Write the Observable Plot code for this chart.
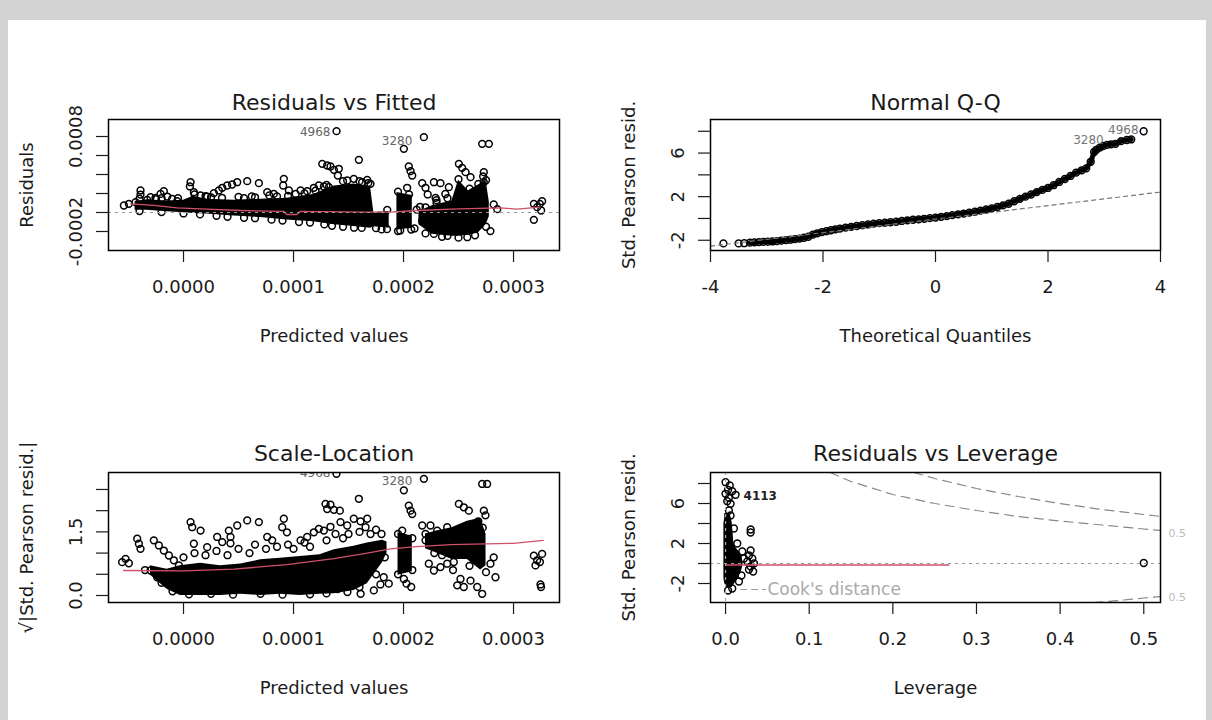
<!DOCTYPE html>
<html>
<head>
<meta charset="utf-8">
<script src="https://cdn.jsdelivr.net/npm/d3@7"></script>
<script src="https://cdn.jsdelivr.net/npm/@observablehq/plot@0.6"></script>
<style>
  html, body { margin: 0; padding: 0; background: #ffffff; }
  #page { position: relative; width: 1212px; height: 720px; overflow: hidden; background: #ffffff; }
  .band { position: absolute; background: #d3d3d3; }
  .panel { position: absolute; }
  .panel svg { display: block; }
</style>
</head>
<body>
<div id="page">
  <div class="band" style="left:0;top:0;width:1212px;height:20px;"></div>
  <div class="band" style="left:0;top:0;width:8px;height:720px;"></div>
  <div class="band" style="left:1206px;top:0;width:6px;height:720px;"></div>
  <div class="panel" id="p1" style="left:8px;top:20px;"></div>
  <div class="panel" id="p2" style="left:606px;top:20px;"></div>
  <div class="panel" id="p3" style="left:8px;top:360px;"></div>
  <div class="panel" id="p4" style="left:606px;top:360px;"></div>
</div>
<script>
// ---------------- Titles & labels ----------------
const panelTitles = ["Residuals vs Fitted", "Normal Q-Q", "Scale-Location", "Residuals vs Leverage"];
const xTitles = ["Predicted values", "Theoretical Quantiles", "Predicted values", "Leverage"];
const yTitles = ["Residuals", "Std. Pearson resid.", "\u221A|Std. Pearson resid.|", "Std. Pearson resid."];

// ---------------- Ticks ----------------
const fittedTicks = [0, 0.0001, 0.0002, 0.0003];
const fittedTickLabels = ["0.0000", "0.0001", "0.0002", "0.0003"];
const residTicks = [-0.0002, 0, 0.0002, 0.0004, 0.0006, 0.0008];
const residTickLabels = ["-0.0002", "", "", "", "", "0.0008"];
const qqXTicks = [-4, -2, 0, 2, 4];
const qqXTickLabels = ["-4", "-2", "0", "2", "4"];
const stdTicks = [-2, 0, 2, 4, 6, 8];
const stdTickLabels = ["-2", "", "2", "", "6", ""];
const sqrtTicks = [0, 0.5, 1, 1.5, 2, 2.5];
const sqrtTickLabels = ["0.0", "", "", "1.5", "", ""];
const levTicks = [0, 0.1, 0.2, 0.3, 0.4, 0.5];
const levTickLabels = ["0.0", "0.1", "0.2", "0.3", "0.4", "0.5"];

// ---------------- Panel 1: Residuals vs Fitted ----------------
// dense cores [fitted, lowest residual, highest residual, cluster]
const rvfDense = [
  [-0.44e-4, 0.25e-4, 1.15e-4, "A"], [-0.33e-4, 0.25e-4, 1.35e-4, "A"], [-0.15e-4, 0.08e-4, 1.2e-4, "A"],
  [0.0e-4, -0.03e-4, 1.3e-4, "A"], [0.09e-4, -0.1e-4, 1.7e-4, "A"], [0.21e-4, -0.17e-4, 1.4e-4, "A"],
  [0.46e-4, -0.38e-4, 1.3e-4, "A"], [0.70e-4, -0.52e-4, 1.4e-4, "A"], [0.94e-4, -0.8e-4, 1.5e-4, "A"],
  [1.18e-4, -0.97e-4, 1.9e-4, "A"], [1.37e-4, -1.3e-4, 2.8e-4, "A"], [1.55e-4, -1.48e-4, 3.0e-4, "A"],
  [1.70e-4, -1.66e-4, 2.7e-4, "A"], [1.73e-4, -1.5e-4, 0.0e-4, "A"], [1.87e-4, -1.66e-4, 0.1e-4, "A"],
  [1.94e-4, -1.83e-4, 2.1e-4, "B"], [2.08e-4, -1.66e-4, 1.8e-4, "B"],
  [2.14e-4, -1.3e-4, 0.1e-4, "C"], [2.26e-4, -2.3e-4, 0.7e-4, "C"], [2.44e-4, -2.5e-4, 1.2e-4, "C"],
  [2.50e-4, -2.5e-4, 3.4e-4, "C"], [2.59e-4, -2.4e-4, 2.3e-4, "C"], [2.68e-4, -2.15e-4, 2.9e-4, "C"],
  [2.75e-4, -1.3e-4, 3.4e-4, "C"], [2.78e-4, -0.45e-4, 1.1e-4, "C"]
];
// individual points [fitted, residual]
const rvfPoints = [
  [-0.542e-4, 0.737e-4], [-0.497e-4, 0.912e-4], [-0.436e-4, 1.09e-4], [-0.391e-4, 2.32e-4], [-0.391e-4, 1.89e-4],
  [-0.33e-4, 1.33e-4], [-0.30e-4, 1.61e-4], [-0.255e-4, 1.54e-4], [-0.209e-4, 1.96e-4], [-0.179e-4, 2.25e-4],
  [-0.148e-4, 1.68e-4], [-0.103e-4, 1.44e-4], [-0.058e-4, 1.19e-4],
  [0.064e-4, 3.19e-4], [0.058e-4, 2.74e-4], [0.094e-4, 2.14e-4], [0.155e-4, 1.79e-4], [0.215e-4, 1.68e-4],
  [0.276e-4, 2.04e-4], [0.321e-4, 2.32e-4], [0.352e-4, 2.6e-4], [0.397e-4, 2.84e-4], [0.442e-4, 2.95e-4],
  [0.488e-4, 3.19e-4], [0.579e-4, 3.3e-4], [0.685e-4, 3.09e-4], [0.761e-4, 2.14e-4], [0.821e-4, 1.96e-4],
  [0.912e-4, 3.54e-4], [0.906e-4, 2.84e-4], [0.958e-4, 2.32e-4], [1.064e-4, 2.32e-4], [1.124e-4, 2.25e-4],
  [1.185e-4, 2.6e-4], [1.23e-4, 2.84e-4], [1.276e-4, 2.74e-4], [1.321e-4, 2.67e-4],
  [1.261e-4, 5.12e-4], [1.306e-4, 4.95e-4], [1.336e-4, 4.84e-4], [1.367e-4, 4.49e-4], [1.412e-4, 4.6e-4],
  [1.403e-4, 3.89e-4], [1.488e-4, 3.37e-4], [1.548e-4, 3.54e-4], [1.594e-4, 5.54e-4], [1.624e-4, 3.19e-4],
  [1.67e-4, 3.44e-4], [1.70e-4, 3.02e-4], [1.852e-4, 0.28e-4],
  [2.003e-4, 6.70e-4], [2.048e-4, 4.84e-4], [2.064e-4, 4.35e-4], [2.079e-4, 3.89e-4], [2.033e-4, 2.6e-4],
  [2.17e-4, 3.09e-4], [2.2e-4, 2.6e-4], [2.276e-4, 3.19e-4], [2.336e-4, 3.09e-4], [2.412e-4, 2.67e-4],
  [2.291e-4, 1.54e-4], [2.79e-4, -1.96e-4],
  [2.503e-4, 5.12e-4], [2.533e-4, 4.7e-4], [2.564e-4, 4.25e-4], [2.609e-4, 3.72e-4], [2.73e-4, 4.25e-4],
  [2.724e-4, 3.79e-4], [2.73e-4, 3.19e-4], [2.82e-4, 0.84e-4], [2.852e-4, 0.35e-4],
  [3.185e-4, -0.77e-4], [3.215e-4, 0.56e-4], [3.239e-4, 0.91e-4], [3.26e-4, 1.19e-4], [3.251e-4, 0.21e-4], [3.185e-4, 0.91e-4],
  [1.391e-4, 8.56e-4], [2.185e-4, 7.93e-4], [2.715e-4, 7.23e-4], [2.776e-4, 7.23e-4],
  [2.276e-4, -2.25e-4], [2.58e-4, -2.6e-4], [2.4e-4, -2.45e-4], [2.1e-4, -1.68e-4], [1.97e-4, -1.89e-4],
  [0.3e-4, -0.35e-4], [0.55e-4, -0.55e-4], [0.8e-4, -0.75e-4], [1.05e-4, -1.0e-4], [1.28e-4, -1.25e-4],
  [1.45e-4, -1.5e-4], [1.62e-4, -1.62e-4], [1.8e-4, -1.78e-4],
  [0.5e-4, 1.65e-4], [0.2e-4, 1.72e-4], [0.78e-4, 1.8e-4], [1.02e-4, 1.95e-4], [-0.25e-4, 1.4e-4], [0.62e-4, 1.7e-4],
  [2.2e-4, 0.55e-4], [2.35e-4, -0.5e-4], [2.46e-4, 0.85e-4], [2.62e-4, 1.25e-4], [2.66e-4, -1.0e-4], [2.3e-4, 1.3e-4],
  [2.17e-4, -0.9e-4], [2.55e-4, 2.0e-4], [2.7e-4, 2.25e-4], [2.22e-4, 1.9e-4], [2.38e-4, 1.95e-4], [2.12e-4, 0.3e-4],
  [-0.40e-4, 1.45e-4], [-0.2e-4, 1.5e-4], [-0.05e-4, 1.5e-4], [0.1e-4, 1.9e-4], [0.25e-4, 1.6e-4], [0.35e-4, 1.55e-4],
  [0.55e-4, 1.5e-4], [0.65e-4, 1.6e-4], [0.85e-4, 1.7e-4], [0.95e-4, 1.75e-4], [1.1e-4, 2.0e-4], [1.2e-4, 2.3e-4],
  [1.3e-4, 2.9e-4], [1.45e-4, 3.3e-4], [1.6e-4, 3.3e-4], [1.68e-4, 3.1e-4],
  [-0.4e-4, 0.15e-4], [-0.2e-4, 0.05e-4], [0.0e-4, -0.1e-4], [0.15e-4, -0.2e-4], [0.4e-4, -0.45e-4], [0.65e-4, -0.6e-4],
  [0.9e-4, -0.85e-4], [1.15e-4, -1.05e-4], [1.35e-4, -1.4e-4], [1.55e-4, -1.6e-4], [1.75e-4, -1.65e-4], [1.85e-4, -1.75e-4],
  [1.95e-4, 2.2e-4], [2.05e-4, 1.9e-4], [1.95e-4, -1.95e-4], [2.07e-4, -1.8e-4],
  [2.2e-4, -2.2e-4], [2.35e-4, -2.55e-4], [2.5e-4, -2.65e-4], [2.65e-4, -2.4e-4], [2.75e-4, -1.5e-4],
  [2.15e-4, 0.6e-4], [2.3e-4, 1.0e-4], [2.4e-4, 1.5e-4], [2.5e-4, 3.5e-4], [2.6e-4, 2.5e-4], [2.68e-4, 3.0e-4], [2.75e-4, 3.4e-4]
];
const rvfSmooth = [
  [-0.482e-4, 0.91e-4], [-0.27e-4, 0.74e-4], [-0.058e-4, 0.49e-4], [0.215e-4, 0.35e-4], [0.52e-4, 0.21e-4],
  [0.912e-4, 0.11e-4], [0.94e-4, -0.21e-4], [1.03e-4, -0.21e-4], [1.06e-4, 0.11e-4], [1.67e-4, 0.04e-4],
  [1.88e-4, 0.04e-4], [2.12e-4, 0.21e-4], [2.5e-4, 0.39e-4], [2.88e-4, 0.49e-4], [3.03e-4, 0.35e-4], [3.24e-4, 0.56e-4]
];
const rvfIdLabels = [[1.336e-4, 8.42e-4, "4968"], [2.08e-4, 7.47e-4, "3280"]];

// ---------------- Panel 2: Normal Q-Q ----------------
const qqPoints = [
  [-3.77, -2.29], [-3.50, -2.29], [-3.40, -2.27], [-3.30, -2.22], [-3.22, -2.2], [-3.14, -2.17], [-3.06, -2.15],
  [-2.98, -2.13], [-2.90, -2.11], [-2.82, -2.08], [-2.74, -2.03], [-2.66, -1.98], [-2.58, -1.95], [-2.50, -1.9],
  [-2.42, -1.85], [-2.34, -1.77], [-2.26, -1.68], [-2.18, -1.48], [-2.10, -1.36], [-2.02, -1.25], [-1.94, -1.17],
  [-1.86, -1.08], [-1.78, -1.0], [-1.70, -0.93], [-1.60, -0.84], [-1.50, -0.77], [-1.40, -0.69], [-1.30, -0.62],
  [-1.20, -0.55], [-1.10, -0.48], [-1.00, -0.43], [-0.90, -0.39], [-0.80, -0.35], [-0.70, -0.3], [-0.60, -0.23],
  [-0.50, -0.17], [-0.40, -0.12], [-0.30, -0.08], [-0.20, -0.03], [-0.10, 0.03], [0.00, 0.08], [0.10, 0.15],
  [0.20, 0.22], [0.30, 0.3], [0.40, 0.38], [0.50, 0.45], [0.60, 0.53], [0.70, 0.62], [0.80, 0.72], [0.90, 0.82],
  [1.00, 0.93], [1.10, 1.05], [1.20, 1.2], [1.30, 1.35], [1.40, 1.58], [1.50, 1.8], [1.60, 2.0], [1.70, 2.2],
  [1.80, 2.42], [1.90, 2.62], [2.00, 2.8], [2.10, 3.05], [2.20, 3.35], [2.30, 3.62], [2.40, 3.9], [2.50, 4.2],
  [2.60, 4.42], [2.68, 4.6], [2.76, 5.2], [2.82, 6.1], [2.86, 6.3], [2.92, 6.5], [2.98, 6.65], [3.05, 6.75],
  [3.12, 6.8], [3.20, 6.85], [3.30, 7.1], [3.40, 7.2], [3.48, 7.25], [3.70, 8.0]
];
const qqLine = [[-4, -2.54], [4, 2.42]];
const qqIdLabels = [[3.61, 8.07, "4968"], [2.99, 7.16, "3280"]];

// ---------------- Panel 3: Scale-Location ----------------
const slDense = [
  [-0.30e-4, 0.48, 0.7, "A"], [-0.15e-4, 0.15, 0.62, "A"], [-0.03e-4, 0.0, 0.7, "A"], [0.155e-4, 0.0, 0.76, "A"],
  [0.336e-4, 0.0, 0.7, "A"], [0.52e-4, 0.03, 0.74, "A"], [0.70e-4, 0.0, 0.84, "A"], [0.88e-4, 0.03, 0.88, "A"],
  [1.06e-4, 0.0, 0.92, "A"], [1.24e-4, 0.03, 0.96, "A"], [1.37e-4, 0.04, 1.08, "A"], [1.55e-4, 0.12, 1.16, "A"],
  [1.67e-4, 0.28, 1.24, "A"], [1.81e-4, 0.78, 1.3, "A"], [1.85e-4, 1.0, 1.26, "A"],
  [1.95e-4, 0.48, 1.48, "B"], [2.08e-4, 0.56, 1.4, "B"],
  [2.2e-4, 1.1, 1.45, "C"], [2.3e-4, 1.0, 1.52, "C"], [2.44e-4, 0.85, 1.6, "C"], [2.58e-4, 0.85, 1.75, "C"],
  [2.70e-4, 0.6, 1.82, "C"], [2.75e-4, 0.7, 1.45, "C"]
];
const slPoints = [
  [-0.558e-4, 0.786], [-0.527e-4, 0.865], [-0.497e-4, 0.76], [-0.421e-4, 1.34], [-0.406e-4, 1.22], [-0.391e-4, 1.10],
  [-0.27e-4, 1.30], [-0.224e-4, 1.18], [-0.179e-4, 1.06], [-0.133e-4, 0.943], [-0.088e-4, 0.83], [-0.042e-4, 0.71],
  [-0.3e-4, 0.59], [-0.24e-4, 0.43],
  [0.064e-4, 1.73], [0.079e-4, 1.61], [0.094e-4, 1.22], [0.155e-4, 1.53], [0.215e-4, 1.14], [0.306e-4, 1.38],
  [0.352e-4, 1.26], [0.412e-4, 1.53], [0.427e-4, 1.38], [0.427e-4, 1.23], [0.488e-4, 1.65], [0.579e-4, 1.77],
  [0.685e-4, 1.73], [0.761e-4, 1.38], [0.806e-4, 1.30], [0.912e-4, 1.81], [0.897e-4, 1.61], [0.94e-4, 1.49],
  [1.064e-4, 1.30], [1.124e-4, 1.38], [1.185e-4, 1.49], [1.23e-4, 1.57], [1.276e-4, 1.53], [1.336e-4, 1.62], [1.382e-4, 1.45],
  [1.291e-4, 2.16], [1.336e-4, 2.14], [1.367e-4, 2.02], [1.421e-4, 2.0], [1.306e-4, 2.04], [1.594e-4, 2.28],
  [1.427e-4, 1.73], [1.488e-4, 1.65], [1.548e-4, 1.81], [1.609e-4, 1.75], [1.67e-4, 1.81], [1.655e-4, 1.61],
  [1.82e-4, 0.43], [1.866e-4, 0.28], [1.79e-4, 0.26], [1.73e-4, 0.12], [1.61e-4, 0.04], [1.49e-4, 0.08],
  [2.003e-4, 2.48], [2.048e-4, 2.12], [2.064e-4, 2.0], [2.079e-4, 1.92], [1.988e-4, 1.53], [2.003e-4, 0.39],
  [2.027e-4, 0.28], [2.07e-4, 0.20],
  [2.17e-4, 1.65], [2.245e-4, 1.65], [2.306e-4, 1.53], [2.397e-4, 1.61], [2.2e-4, 1.30], [2.23e-4, 0.75],
  [2.276e-4, 0.59], [2.336e-4, 0.67], [2.397e-4, 0.75], [2.457e-4, 0.79], [2.488e-4, 0.24], [2.548e-4, 0.20],
  [2.518e-4, 0.39], [2.609e-4, 0.35], [2.67e-4, 0.20], [2.715e-4, 0.04], [2.836e-4, 0.43], [2.79e-4, 0.75], [2.82e-4, 0.90],
  [2.503e-4, 2.16], [2.548e-4, 2.08], [2.594e-4, 2.0], [2.73e-4, 2.0], [2.745e-4, 1.89],
  [2.715e-4, 2.63], [2.76e-4, 2.63], [2.185e-4, 2.75], [1.391e-4, 2.87],
  [3.185e-4, 0.94], [3.215e-4, 0.83], [3.2e-4, 0.71], [3.24e-4, 0.79], [3.26e-4, 0.98], [3.245e-4, 0.26], [3.25e-4, 0.20],
  [0.0e-4, 0.9], [0.1e-4, 1.0], [0.2e-4, 0.95], [0.3e-4, 1.05], [0.4e-4, 0.95], [0.5e-4, 1.1], [0.6e-4, 1.0],
  [0.65e-4, 1.2], [0.75e-4, 1.1], [0.85e-4, 1.15], [0.95e-4, 1.2], [1.0e-4, 1.1], [1.1e-4, 1.25], [1.15e-4, 1.15],
  [1.3e-4, 1.3], [1.45e-4, 1.35], [1.5e-4, 1.45], [1.6e-4, 1.5], [1.7e-4, 1.45], [1.75e-4, 1.55], [1.8e-4, 1.45],
  [0.05e-4, 0.03], [0.45e-4, 0.02], [0.9e-4, 0.02], [1.3e-4, 0.05], [-0.1e-4, 0.1], [0.25e-4, 0.04], [0.7e-4, 0.04], [1.15e-4, 0.03],
  [-0.2e-4, 0.3], [-0.35e-4, 0.6], [1.6e-4, 0.2], [1.75e-4, 0.5], [1.83e-4, 0.9], [1.4e-4, 0.15],
  [2.2e-4, 1.45], [2.3e-4, 1.2], [2.35e-4, 0.95], [2.42e-4, 1.4], [2.5e-4, 1.1], [2.55e-4, 1.5], [2.62e-4, 1.3],
  [2.65e-4, 0.9], [2.72e-4, 1.6], [2.28e-4, 1.0], [2.45e-4, 0.6], [2.6e-4, 0.7], [2.75e-4, 0.55], [2.68e-4, 1.75],
  [1.95e-4, 0.5], [2.08e-4, 0.6], [1.95e-4, 1.45], [2.08e-4, 1.35]
];
const slSmooth = [
  [-0.545e-4, 0.59], [0.0035e-4, 0.58], [0.458e-4, 0.62], [0.94e-4, 0.73], [1.367e-4, 0.87], [1.67e-4, 1.0],
  [1.88e-4, 1.1], [2.12e-4, 1.15], [2.43e-4, 1.2], [3.0e-4, 1.23], [3.27e-4, 1.3]
];
const slIdLabels = [[1.336e-4, 2.88, "4968"], [2.08e-4, 2.69, "3280"]];

// ---------------- Panel 4: Residuals vs Leverage ----------------
// dense column [std. residual, lowest leverage, highest leverage]
const levDense = [
  [5.0, -0.001, 0.005], [4.5, -0.001, 0.007], [4.0, -0.002, 0.008], [3.0, -0.002, 0.009], [2.0, -0.002, 0.010],
  [1.5, -0.002, 0.013], [1.0, -0.002, 0.018], [0.5, -0.002, 0.020], [0.0, -0.002, 0.021], [-0.5, -0.002, 0.020],
  [-1.0, -0.002, 0.018], [-1.5, -0.002, 0.015], [-2.0, -0.001, 0.011], [-2.4, 0.001, 0.008]
];
const levPoints = [
  [0.0, 8.13], [0.005, 7.8], [0.003, 7.37], [0.008, 7.23], [0.0, 6.97], [0.012, 6.87], [0.004, 6.57], [0.002, 6.23],
  [0.006, 5.97], [0.004, 5.3], [0.030, 3.4], [0.030, 3.1], [0.030, 1.3], [0.028, 0.8], [0.032, 0.5], [0.026, 0.2],
  [0.034, 0.0], [0.030, -0.3], [0.028, -0.6], [0.033, -0.8], [0.5, 0.05], [0.003, -2.7], [0.008, -2.5],
  [0.016, -1.8], [0.022, 0.5], [0.020, 1.2], [0.014, 2.0], [0.010, 3.5], [0.006, 4.8], [0.019, -1.2]
];
const levSmooth = [[0, -0.15], [0.267, -0.15]];
const levIdLabels = [[0.0215, 6.75, "4113"]];
// Cook's distance contours [leverage, std. residual, contour]
const cookContours = [
  [0.125, 9.1, "0.5+"], [0.15, 8.2, "0.5+"], [0.2, 6.9, "0.5+"], [0.25, 6.0, "0.5+"], [0.3, 5.3, "0.5+"],
  [0.35, 4.7, "0.5+"], [0.4, 4.25, "0.5+"], [0.45, 3.85, "0.5+"], [0.5, 3.45, "0.5+"], [0.52, 3.3, "0.5+"],
  [0.225, 9.1, "1+"], [0.25, 8.5, "1+"], [0.3, 7.5, "1+"], [0.35, 6.7, "1+"], [0.4, 6.0, "1+"],
  [0.45, 5.4, "1+"], [0.5, 4.9, "1+"], [0.52, 4.7, "1+"],
  [0.44, -3.9, "0.5-"], [0.47, -3.7, "0.5-"], [0.5, -3.45, "0.5-"], [0.52, -3.3, "0.5-"]
];
const cookLabels = [[0.52, 3.0, "0.5"], [0.52, -3.4, "0.5"]];
const cookLegendLine = [[0.018, -2.6], [0.048, -2.6]];
const cookLegendText = [[0.05, -2.6, "Cook's distance"]];

// ---------------- Helpers ----------------
const INK = "#1a1a1a";
const RED = "#d0506a";
const dotStyle = {stroke: "black", fill: "none", r: 3.4, strokeWidth: 1.5};

function xAxis(ticks, labels) {
  return Plot.axisX(ticks, {tickFormat: d => labels[ticks.indexOf(d)], tickSize: 12, tickPadding: 18,
    fontSize: 18, label: null, strokeWidth: 1.2});
}
function yAxis(ticks, labels) {
  return Plot.axisY(ticks, {tickFormat: d => labels[ticks.indexOf(d)], tickSize: 12, tickPadding: 15,
    tickRotate: -90, fontSize: 18, label: null, strokeWidth: 1.2});
}
function titles(i, titleDy) {
  return [
    Plot.text([panelTitles[i]], {text: d => d, frameAnchor: "top", textAnchor: "middle", lineAnchor: "bottom", dy: titleDy, fontSize: 22, fill: INK}),
    Plot.text([xTitles[i]], {text: d => d, frameAnchor: "bottom", textAnchor: "middle", lineAnchor: "bottom", dy: 91, fontSize: 18, fill: INK}),
    Plot.text([yTitles[i]], {text: d => d, frameAnchor: "left", textAnchor: "middle", rotate: -90, lineAnchor: "bottom", dx: -76, fontSize: 18, fill: INK})
  ];
}
function draw(id, cfg) {
  const svg = Plot.plot({
    width: cfg.width, height: cfg.height,
    marginLeft: cfg.ml, marginRight: cfg.mr, marginTop: cfg.mt, marginBottom: cfg.mb,
    x: {domain: cfg.xd, axis: null},
    y: {domain: cfg.yd, axis: null},
    style: {fontFamily: "'DejaVu Sans', sans-serif", fontSize: "18px", color: INK, background: "transparent", overflow: "visible"},
    marks: cfg.marks
  });
  document.getElementById(id).appendChild(svg);
}

// ---------------- Panel 1 ----------------
draw("p1", {
  width: 598, height: 340, ml: 100, mr: 47, mt: 99, mb: 110,
  xd: [-0.0000682, 0.0003418], yd: [-0.0004, 0.000979],
  marks: [
    Plot.areaY(rvfDense, {x: d => d[0], y1: d => d[1], y2: d => d[2], z: d => d[3], fill: "black"}),
    Plot.dot(rvfPoints, {x: d => d[0], y: d => d[1], ...dotStyle}),
    Plot.line(rvfSmooth, {x: d => d[0], y: d => d[1], stroke: RED, strokeWidth: 1.3}),
    Plot.ruleY([0], {stroke: "#999", strokeDasharray: "3,4", strokeWidth: 1.2}),
    Plot.text(rvfIdLabels, {x: d => d[0], y: d => d[1], text: d => d[2], textAnchor: "end", fontSize: 12, fill: "#666"}),
    Plot.frame({stroke: "black", strokeWidth: 1.5}),
    xAxis(fittedTicks, fittedTickLabels),
    yAxis(residTicks, residTickLabels),
    ...titles(0, -10)
  ]
});

// ---------------- Panel 2 ----------------
draw("p2", {
  width: 600, height: 340, ml: 104, mr: 46, mt: 99, mb: 110,
  xd: [-4, 4], yd: [-2.94, 9.08],
  marks: [
    Plot.line(qqPoints.filter(d => d[0] > -3.35 && d[0] < 3.5), {x: d => d[0], y: d => d[1], stroke: "black", strokeWidth: 5}),
    Plot.dot(qqPoints, {x: d => d[0], y: d => d[1], ...dotStyle}),
    Plot.line(qqLine, {x: d => d[0], y: d => d[1], stroke: "#777", strokeDasharray: "4,4", strokeWidth: 1.2}),
    Plot.text(qqIdLabels, {x: d => d[0], y: d => d[1], text: d => d[2], textAnchor: "end", fontSize: 12, fill: "#777"}),
    Plot.frame({stroke: "black", strokeWidth: 1.5}),
    xAxis(qqXTicks, qqXTickLabels),
    yAxis(stdTicks, stdTickLabels),
    ...titles(1, -10)
  ]
});

// ---------------- Panel 3 ----------------
draw("p3", {
  width: 598, height: 360, ml: 100, mr: 47, mt: 112, mb: 118,
  xd: [-0.0000682, 0.0003418], yd: [-0.165, 2.90],
  marks: [
    Plot.areaY(slDense, {x: d => d[0], y1: d => d[1], y2: d => d[2], z: d => d[3], fill: "black", clip: true}),
    Plot.dot(slPoints, {x: d => d[0], y: d => d[1], ...dotStyle, clip: true}),
    Plot.line(slSmooth, {x: d => d[0], y: d => d[1], stroke: RED, strokeWidth: 1.3}),
    Plot.text(slIdLabels, {x: d => d[0], y: d => d[1], text: d => d[2], textAnchor: "end", fontSize: 12, fill: "#666", clip: true}),
    Plot.frame({stroke: "black", strokeWidth: 1.5}),
    xAxis(fittedTicks, fittedTickLabels),
    yAxis(sqrtTicks, sqrtTickLabels),
    ...titles(2, -12)
  ]
});

// ---------------- Panel 4 ----------------
draw("p4", {
  width: 600, height: 360, ml: 104, mr: 46, mt: 112, mb: 118,
  xd: [-0.018, 0.52], yd: [-3.9, 9.1],
  marks: [
    Plot.line(cookContours, {x: d => d[0], y: d => d[1], z: d => d[2], stroke: "#888", strokeDasharray: "9,6", strokeWidth: 1.2, clip: true}),
    Plot.areaX(levDense, {y: d => d[0], x1: d => d[1], x2: d => d[2], fill: "black"}),
    Plot.dot(levPoints, {x: d => d[0], y: d => d[1], ...dotStyle}),
    Plot.line(levSmooth, {x: d => d[0], y: d => d[1], stroke: RED, strokeWidth: 1.3}),
    Plot.ruleY([0], {stroke: "#999", strokeDasharray: "3,4", strokeWidth: 1.2}),
    Plot.ruleX([0], {stroke: "#aaa", strokeDasharray: "3,4", strokeWidth: 1.2}),
    Plot.text(levIdLabels, {x: d => d[0], y: d => d[1], text: d => d[2], textAnchor: "start", fontSize: 12, fontWeight: "bold", fill: "#222"}),
    Plot.line(cookLegendLine, {x: d => d[0], y: d => d[1], stroke: "#999", strokeDasharray: "6,5", strokeWidth: 1.2}),
    Plot.text(cookLegendText, {x: d => d[0], y: d => d[1], text: d => d[2], textAnchor: "start", fontSize: 17, fill: "#aaa"}),
    Plot.text(cookLabels, {x: d => d[0], y: d => d[1], text: d => d[2], textAnchor: "start", dx: 8, fontSize: 11, fill: "#bbb"}),
    Plot.frame({stroke: "black", strokeWidth: 1.5}),
    xAxis(levTicks, levTickLabels),
    yAxis(stdTicks, stdTickLabels),
    ...titles(3, -12)
  ]
});
</script>
</body>
</html>
